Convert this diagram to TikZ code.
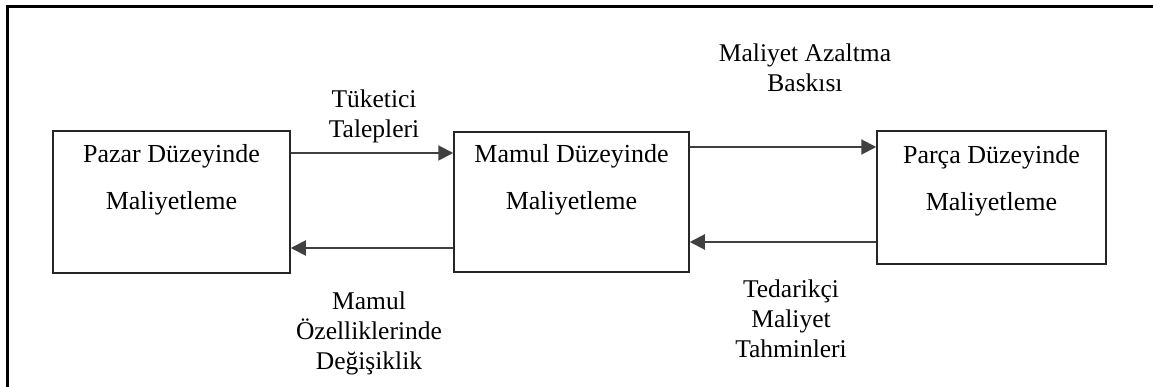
\documentclass[tikz,border=0pt]{standalone}
\usepackage{fontspec}
\setmainfont{Liberation Serif}
\usetikzlibrary{arrows.meta, positioning, calc}

\begin{document}
\begin{tikzpicture}[x=1pt, y=-1pt,
		costbox/.style={draw=black!85, line width=1.5pt, inner sep=0pt},
		boxtxt/.style={align=center, font=\fontsize{26}{47}\selectfont},
		lbl/.style={align=center, font=\fontsize{25.5}{30}\selectfont},
		flow/.style={draw=black!75, line width=2pt, -{Triangle[length=15pt,width=15pt]}}]
		
		\useasboundingbox (0,0) rectangle (1153,387);
		
		% Outer frame (only top and left edges show)
		\draw[line width=3pt] (7,387) -- (7,7) -- (1153,7);
		
		% Cost levels
		\node[costbox, minimum width=237pt, minimum height=142pt] (pazar) at (171.5,202) {};
		\node[costbox, minimum width=235pt, minimum height=140pt] (mamul) at (571.5,202) {};
		\node[costbox, minimum width=229pt, minimum height=133pt] (parca) at (991.5,197.5) {};
		
		\node[boxtxt] (pazar-t) at ([yshift=22pt]pazar.center) {Pazar Düzeyinde\\Maliyetleme};
		\node[boxtxt] (mamul-t) at ([yshift=22pt]mamul.center) {Mamul Düzeyinde\\Maliyetleme};
		\node[boxtxt] (parca-t) at ([yshift=17pt]parca.center) {Parça Düzeyinde\\Maliyetleme};
		
		% Flows between levels
		\draw[flow] ([yshift=49pt]pazar.east) -- ([yshift=49pt]pazar.east -| mamul.west);
		\draw[flow] ([yshift=-46pt]mamul.west) -- ([yshift=-46pt]mamul.west -| pazar.east);
		\draw[flow] ([yshift=55pt]mamul.east) -- ([yshift=55pt]mamul.east -| parca.west);
		\draw[flow] ([yshift=-40pt]mamul.east -| parca.west) -- ([yshift=-40pt]mamul.east);
		
		% Flow labels
		\node[lbl] (talep) at (374,116) {Tüketici\\Talepleri};
		\node[lbl] (baski) at (805,68) {Maliyet Azaltma\\Baskısı};
		\node[lbl] (degis) at (369,333) {Mamul\\Özelliklerinde\\Değişiklik};
		\node[lbl] (tahmin) at (791,319) {Tedarikçi\\Maliyet\\Tahminleri};
		
	\end{tikzpicture}
\end{document}
